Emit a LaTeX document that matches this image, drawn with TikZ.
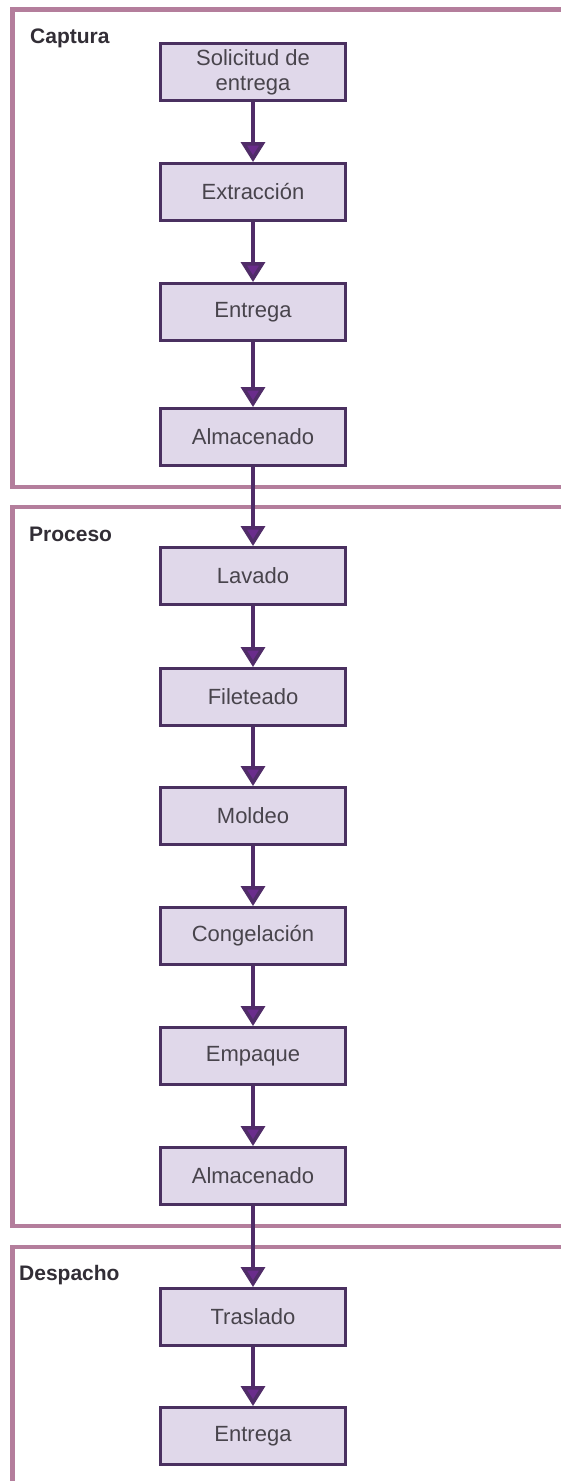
\documentclass[tikz,border=0pt]{standalone}
\usepackage{fontspec}
\setmainfont{Liberation Sans}
\usetikzlibrary{arrows.meta}
\definecolor{frameline}{RGB}{180,126,156}
\definecolor{boxfill}{RGB}{224,216,234}
\definecolor{boxline}{RGB}{74,48,96}
\definecolor{boxtext}{RGB}{72,68,76}
\definecolor{titletext}{RGB}{50,46,54}
\definecolor{arrowline}{RGB}{80,44,104}
\definecolor{arrowfill}{RGB}{106,44,140}
\begin{document}
\begin{tikzpicture}
  [x=1pt,y=-1pt,
   every node/.style={font=\fontsize{22}{25}\selectfont},
   paso/.style={draw=boxline,fill=boxfill,line width=3pt,minimum width=185pt,minimum height=57pt,
     inner sep=0pt,align=center,text=boxtext},
   etapa/.style={draw=frameline,line width=4.5pt},
   titulo/.style={anchor=base west,inner sep=0pt,text=titletext,font=\bfseries\fontsize{21}{24}\selectfont},
   flecha/.style={draw=arrowline,line width=3.5pt,-{Triangle[length=20pt,width=24pt,fill=arrowfill]}}]
  \clip (0,0) rectangle (561,1481);
  \fill[white] (0,0) rectangle (561,1481);

  \draw[etapa] (12.5,9.5) rectangle (600,487);
  \draw[etapa] (12.5,507) rectangle (600,1226);
  \draw[etapa] (12.5,1247) rectangle (600,1530);

  \node[titulo] (tcap) at (30,43) {Captura};
  \node[titulo] (tpro) at (29,541) {Proceso};
  \node[titulo] (tdes) at (19,1280) {Despacho};

  \node[paso] (sol) at (253,72) {Solicitud de\\entrega};
  \node[paso] (ext) at (253,192) {Extracción};
  \node[paso] (ent) at (253,312) {Entrega};
  \node[paso] (alm) at (253,437) {Almacenado};
  \node[paso] (lav) at (253,576) {Lavado};
  \node[paso] (fil) at (253,697) {Fileteado};
  \node[paso] (mol) at (253,816) {Moldeo};
  \node[paso] (con) at (253,936) {Congelación};
  \node[paso] (emp) at (253,1056) {Empaque};
  \node[paso] (alm2) at (253,1176) {Almacenado};
  \node[paso] (tra) at (253,1317) {Traslado};
  \node[paso] (ent2) at (253,1436) {Entrega};

  \foreach \from/\to in {sol/ext,ext/ent,ent/alm,alm/lav,lav/fil,fil/mol,mol/con,con/emp,emp/alm2,alm2/tra,tra/ent2}
    \draw[flecha] (\from) -- (\to);

\end{tikzpicture}
\end{document}
